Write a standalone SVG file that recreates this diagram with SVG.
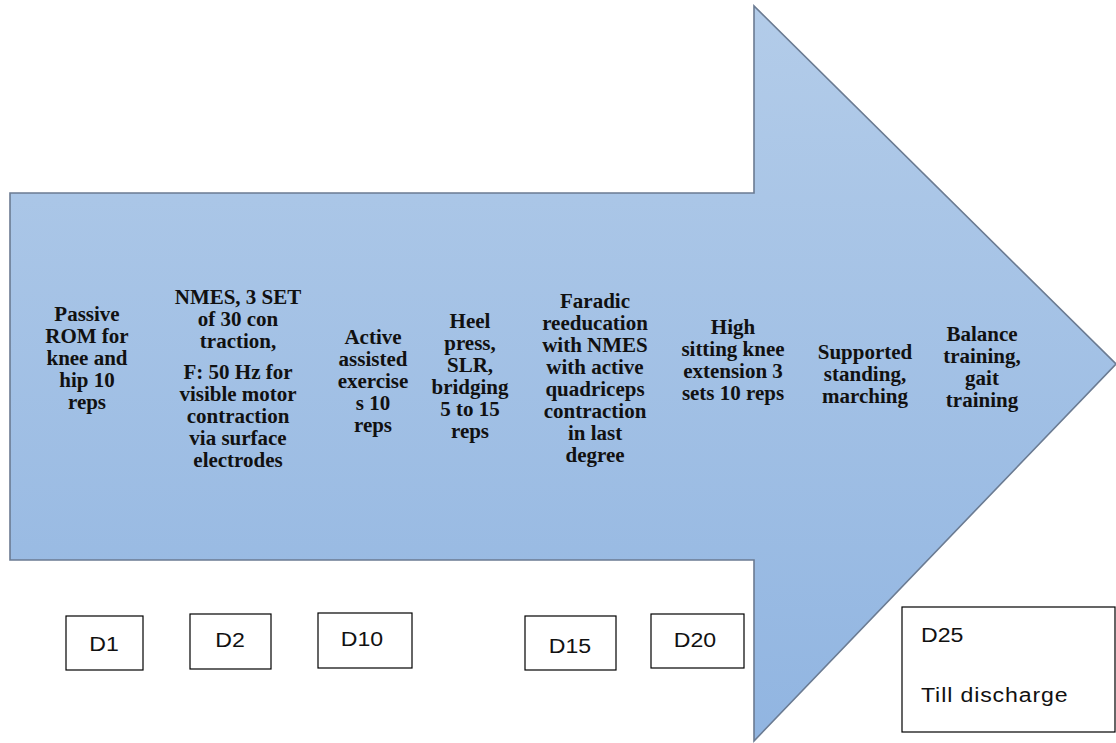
<svg xmlns="http://www.w3.org/2000/svg" width="1116" height="743" viewBox="0 0 1116 743">
  <defs>
    <linearGradient id="arrowFill" x1="0" y1="0" x2="0" y2="1">
      <stop offset="0" stop-color="#b3cce9"/>
      <stop offset="1" stop-color="#91b5e1"/>
    </linearGradient>
    <style>
      .lbl { font-family: "Liberation Serif", "Times New Roman", serif; font-weight: bold; font-size: 20px; fill: #111; text-anchor: middle; }
      .day { fill: #ffffff; stroke: #000; stroke-width: 1.2; }
      .dtxt { font-family: "Liberation Sans", Arial, sans-serif; font-size: 21px; fill: #111; }
    </style>
  </defs>
  <rect width="1116" height="743" fill="#ffffff"/>

  <g id="arrow">
    <polygon points="10,193 754,193 754,6 1116,364 754,741 754,560 10,560" fill="url(#arrowFill)" stroke="#6b7b92" stroke-width="1.6" stroke-linejoin="miter"/>
  </g>

  <g id="connectors"></g>

  <g id="step1" transform="translate(87,0) scale(1.05,1)">
    <text class="lbl" x="0" y="321">Passive</text>
    <text class="lbl" x="0" y="343">ROM for</text>
    <text class="lbl" x="0" y="365">knee and</text>
    <text class="lbl" x="0" y="387">hip 10</text>
    <text class="lbl" x="0" y="409">reps</text>
  </g>
  <g id="step2" transform="translate(238,0) scale(1.05,1)">
    <text class="lbl" x="0" y="304">NMES, 3 SET</text>
    <text class="lbl" x="0" y="326">of 30 con</text>
    <text class="lbl" x="0" y="348">traction,</text>
    <text class="lbl" x="0" y="379">F: 50 Hz for</text>
    <text class="lbl" x="0" y="401">visible motor</text>
    <text class="lbl" x="0" y="423">contraction</text>
    <text class="lbl" x="0" y="445">via surface</text>
    <text class="lbl" x="0" y="467">electrodes</text>
  </g>
  <g id="step3" transform="translate(373,0) scale(1.05,1)">
    <text class="lbl" x="0" y="344">Active</text>
    <text class="lbl" x="0" y="366">assisted</text>
    <text class="lbl" x="0" y="388">exercise</text>
    <text class="lbl" x="0" y="410">s 10</text>
    <text class="lbl" x="0" y="432">reps</text>
  </g>
  <g id="step4" transform="translate(470,0) scale(1.05,1)">
    <text class="lbl" x="0" y="328">Heel</text>
    <text class="lbl" x="0" y="350">press,</text>
    <text class="lbl" x="0" y="372">SLR,</text>
    <text class="lbl" x="0" y="394">bridging</text>
    <text class="lbl" x="0" y="416">5 to 15</text>
    <text class="lbl" x="0" y="438">reps</text>
  </g>
  <g id="step5" transform="translate(595,0) scale(1.05,1)">
    <text class="lbl" x="0" y="308">Faradic</text>
    <text class="lbl" x="0" y="330">reeducation</text>
    <text class="lbl" x="0" y="352">with NMES</text>
    <text class="lbl" x="0" y="374">with active</text>
    <text class="lbl" x="0" y="396">quadriceps</text>
    <text class="lbl" x="0" y="418">contraction</text>
    <text class="lbl" x="0" y="440">in last</text>
    <text class="lbl" x="0" y="462">degree</text>
  </g>
  <g id="step6" transform="translate(733,0) scale(1.05,1)">
    <text class="lbl" x="0" y="334">High</text>
    <text class="lbl" x="0" y="356">sitting knee</text>
    <text class="lbl" x="0" y="378">extension 3</text>
    <text class="lbl" x="0" y="400">sets 10 reps</text>
  </g>
  <g id="step7" transform="translate(865,0) scale(1.05,1)">
    <text class="lbl" x="0" y="359">Supported</text>
    <text class="lbl" x="0" y="381">standing,</text>
    <text class="lbl" x="0" y="403">marching</text>
  </g>
  <g id="step8" transform="translate(982,0) scale(1.05,1)">
    <text class="lbl" x="0" y="341">Balance</text>
    <text class="lbl" x="0" y="363">training,</text>
    <text class="lbl" x="0" y="385">gait</text>
    <text class="lbl" x="0" y="407">training</text>
  </g>

  <g id="d1">
    <rect class="day" x="66" y="616" width="77" height="54"/>
    <text class="dtxt" x="104" y="651" text-anchor="middle" transform="translate(104,0) scale(1.1,1) translate(-104,0)">D1</text>
  </g>
  <g id="d2">
    <rect class="day" x="190" y="614" width="81" height="55"/>
    <text class="dtxt" x="230" y="647" text-anchor="middle" transform="translate(230,0) scale(1.1,1) translate(-230,0)">D2</text>
  </g>
  <g id="d10">
    <rect class="day" x="318" y="613" width="94" height="55"/>
    <text class="dtxt" x="362" y="646" text-anchor="middle" transform="translate(362,0) scale(1.1,1) translate(-362,0)">D10</text>
  </g>
  <g id="d15">
    <rect class="day" x="525" y="616" width="91" height="54"/>
    <text class="dtxt" x="570" y="653" text-anchor="middle" transform="translate(570,0) scale(1.1,1) translate(-570,0)">D15</text>
  </g>
  <g id="d20">
    <rect class="day" x="651" y="614" width="93" height="54"/>
    <text class="dtxt" x="695" y="647" text-anchor="middle" transform="translate(695,0) scale(1.1,1) translate(-695,0)">D20</text>
  </g>
  <g id="d25">
    <rect class="day" x="902" y="607" width="213" height="125"/>
    <text class="dtxt" x="921" y="642" transform="translate(921,0) scale(1.1,1) translate(-921,0)">D25</text>
    <text class="dtxt" x="921" y="702" letter-spacing="0.8" transform="translate(921,0) scale(1.1,1) translate(-921,0)">Till discharge</text>
  </g>
</svg>
